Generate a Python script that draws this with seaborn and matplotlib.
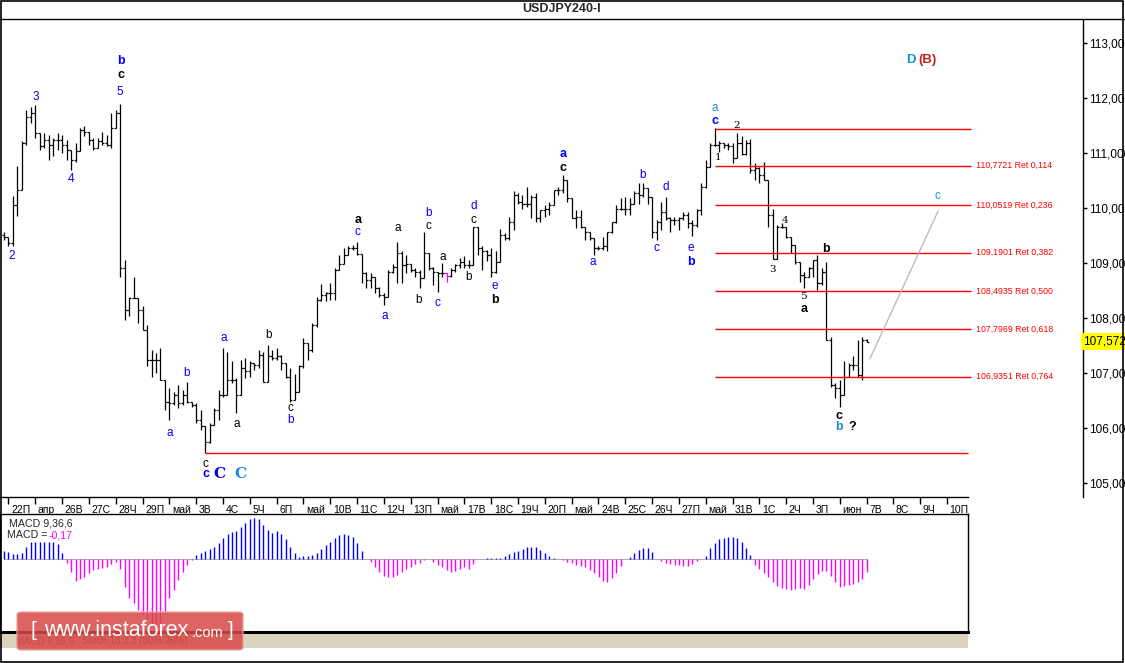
import numpy as np
import matplotlib
matplotlib.use("Agg")
import matplotlib.pyplot as plt
import matplotlib.transforms as mtransforms
from matplotlib.patches import Rectangle, FancyBboxPatch
from matplotlib.lines import Line2D
import seaborn as sns

W, H = 1125, 663

# ---- USDJPY H4 bars (Apr 21 20:00 .. Jun 7 00:00) ----
first_open = 109.50
highs = [
    109.57, 109.48, 110.21, 110.77, 111.21, 111.78, 111.84, 111.87, 111.36, 111.36,
    111.33, 111.27, 111.36, 111.33, 111.24, 111.06, 111.18, 111.45, 111.49, 111.39,
    111.27, 111.27, 111.39, 111.33, 111.73, 111.78, 111.89, 109.05, 108.39, 108.75,
    108.36, 108.21, 107.87, 107.42, 107.36, 107.45, 106.87, 106.72, 106.66, 106.78,
    106.69, 106.84, 106.48, 106.45, 106.33, 106.03, 106.09, 106.36, 106.69, 107.45,
    107.39, 107.21, 106.90, 107.24, 107.27, 107.21, 107.18, 107.42, 107.39, 107.51,
    107.42, 107.45, 107.33, 107.18, 107.09, 106.99, 107.15, 107.63, 107.54, 107.90,
    108.39, 108.62, 108.48, 108.63, 108.90, 109.15, 109.28, 109.30, 109.33, 109.39,
    109.17, 108.84, 108.81, 108.57, 108.57, 108.45, 108.87, 108.99, 109.39, 109.21,
    109.15, 108.96, 108.90, 108.87, 109.57, 109.18, 108.93, 108.84, 109.00, 108.82,
    108.90, 108.99, 109.09, 109.12, 109.05, 109.66, 109.66, 109.30, 109.24, 109.27,
    109.21, 109.61, 109.54, 109.84, 110.30, 110.27, 110.24, 110.39, 110.24, 110.27,
    109.96, 110.05, 110.11, 110.33, 110.39, 110.60, 110.24, 110.14, 109.96, 109.96,
    109.63, 109.57, 109.42, 109.30, 109.48, 109.57, 109.75, 110.05, 110.18, 110.20,
    110.18, 110.30, 110.45, 110.45, 110.30, 110.20, 109.78, 110.11, 110.20, 109.84,
    109.84, 109.84, 109.93, 109.93, 109.78, 109.99, 110.45, 110.87, 111.18, 111.45,
    111.21, 111.18, 111.18, 111.18, 111.36, 111.30, 111.24, 111.25, 110.81, 110.75,
    110.84, 110.51, 109.99, 109.69, 109.72, 109.60, 109.48, 109.33, 108.99, 108.84,
    108.93, 109.05, 109.15, 108.90, 109.02, 107.66, 106.81, 106.87, 107.21, 107.18,
    107.30, 107.60, 107.66, 107.61,
]
lows = [
    109.42, 109.30, 109.30, 109.86, 110.33, 111.15, 111.54, 111.27, 111.06, 111.09,
    110.87, 110.94, 111.06, 111.00, 110.87, 110.69, 110.84, 111.06, 111.30, 111.15,
    111.06, 111.12, 111.15, 111.12, 111.09, 111.45, 108.75, 107.96, 108.03, 108.36,
    107.90, 107.78, 107.12, 106.93, 107.00, 106.87, 106.33, 106.15, 106.42, 106.36,
    106.42, 106.45, 106.39, 106.09, 105.96, 105.54, 105.72, 106.15, 106.15, 106.57,
    106.60, 106.81, 106.27, 106.60, 106.90, 106.93, 107.06, 107.09, 106.84, 106.84,
    107.24, 107.24, 107.06, 106.90, 106.48, 106.66, 106.66, 107.09, 107.24, 107.39,
    107.84, 108.30, 108.30, 108.33, 108.33, 108.87, 108.99, 109.15, 109.24, 109.15,
    108.63, 108.54, 108.54, 108.45, 108.39, 108.24, 108.39, 108.81, 108.63, 108.63,
    108.81, 108.84, 108.75, 108.54, 108.72, 108.87, 108.60, 108.48, 108.75, 108.66,
    108.75, 108.84, 108.90, 108.90, 108.90, 108.96, 109.15, 108.87, 109.03, 108.75,
    108.81, 109.05, 109.42, 109.42, 109.60, 110.08, 109.99, 110.02, 109.81, 109.75,
    109.75, 109.84, 109.87, 110.05, 110.24, 110.27, 110.11, 109.81, 109.63, 109.63,
    109.42, 109.42, 109.15, 109.24, 109.24, 109.21, 109.54, 109.72, 109.96, 109.87,
    109.87, 110.08, 110.08, 110.20, 110.08, 109.45, 109.42, 109.60, 109.78, 109.57,
    109.69, 109.60, 109.78, 109.63, 109.49, 109.66, 109.87, 110.36, 110.75, 111.12,
    111.02, 111.09, 111.06, 110.81, 110.90, 110.96, 110.96, 110.63, 110.51, 110.45,
    110.51, 109.66, 109.08, 109.08, 109.63, 109.45, 109.18, 108.99, 108.66, 108.54,
    108.75, 108.75, 108.51, 108.60, 107.60, 106.75, 106.54, 106.39, 106.60, 106.93,
    107.06, 106.93, 106.87, 107.57,
]
closes = [
    109.48, 109.36, 110.06, 110.33, 111.18, 111.66, 111.72, 111.36, 111.12, 111.24,
    111.15, 111.24, 111.24, 111.15, 111.06, 110.87, 111.03, 111.42, 111.39, 111.24,
    111.09, 111.21, 111.18, 111.15, 111.45, 111.72, 108.90, 108.15, 108.36, 108.36,
    108.15, 107.78, 107.24, 107.24, 107.24, 106.87, 106.48, 106.45, 106.60, 106.45,
    106.60, 106.48, 106.42, 106.15, 106.03, 105.75, 106.06, 106.33, 106.60, 106.60,
    106.87, 106.87, 106.60, 107.09, 107.03, 107.18, 107.15, 107.33, 106.84, 107.30,
    107.27, 107.30, 107.18, 106.93, 106.51, 106.66, 107.12, 107.54, 107.42, 107.87,
    108.33, 108.42, 108.45, 108.45, 108.87, 108.99, 109.15, 109.28, 109.27, 109.17,
    108.81, 108.69, 108.75, 108.54, 108.42, 108.39, 108.84, 108.93, 109.18, 108.96,
    108.99, 108.87, 108.84, 108.72, 109.18, 108.90, 108.84, 108.81, 108.81, 108.76,
    108.87, 108.96, 109.02, 108.96, 108.96, 109.65, 109.27, 109.21, 109.15, 108.84,
    109.02, 109.51, 109.45, 109.75, 110.24, 110.11, 110.08, 110.08, 110.20, 109.81,
    109.96, 109.99, 110.05, 110.33, 110.33, 110.51, 110.18, 109.81, 109.84, 109.66,
    109.57, 109.45, 109.27, 109.27, 109.30, 109.57, 109.75, 109.99, 109.99, 109.99,
    110.08, 110.27, 110.24, 110.36, 110.20, 109.57, 109.75, 109.93, 109.81, 109.78,
    109.78, 109.81, 109.87, 109.72, 109.69, 109.96, 110.39, 110.75, 111.15, 111.15,
    111.18, 111.15, 111.12, 110.90, 111.18, 110.99, 111.18, 110.69, 110.72, 110.60,
    110.51, 109.87, 109.08, 109.66, 109.66, 109.48, 109.33, 109.02, 108.78, 108.75,
    108.90, 109.05, 108.63, 108.84, 107.60, 106.78, 106.72, 106.60, 106.93, 107.15,
    107.15, 106.96, 107.60, 107.572,
]
macd_hist = [
    0.118, 0.104, 0.080, 0.080, 0.095, 0.170, 0.246, 0.246, 0.246, 0.246,
    0.246, 0.246, 0.218, 0.095, -0.057, -0.175, -0.303, -0.284, -0.255, -0.199,
    -0.151, -0.137, -0.128, -0.114, -0.066, -0.033, -0.142, -0.388, -0.553, -0.624,
    -0.719, -0.790, -0.850, -0.900, -0.920, -0.900, -0.740, -0.550, -0.440, -0.290,
    -0.175, -0.080, -0.005, 0.061, 0.095, 0.123, 0.142, 0.180, 0.237, 0.298,
    0.359, 0.393, 0.407, 0.454, 0.520, 0.568, 0.582, 0.568, 0.487, 0.416,
    0.378, 0.407, 0.359, 0.284, 0.170, 0.095, 0.038, 0.047, 0.052, 0.061,
    0.095, 0.142, 0.203, 0.251, 0.298, 0.345, 0.355, 0.345, 0.322, 0.237,
    0.118, 0.005, -0.033, -0.114, -0.175, -0.237, -0.255, -0.255, -0.222, -0.175,
    -0.142, -0.104, -0.066, -0.057, -0.009, 0.002, -0.033, -0.080, -0.114, -0.151,
    -0.175, -0.166, -0.142, -0.114, -0.137, -0.066, 0.002, 0.002, 0.024, 0.024,
    0.014, 0.014, 0.047, 0.076, 0.099, 0.118, 0.147, 0.175, 0.175, 0.170,
    0.132, 0.090, 0.047, 0.019, 0.005, -0.005, -0.033, -0.047, -0.076, -0.095,
    -0.114, -0.151, -0.199, -0.255, -0.303, -0.317, -0.270, -0.189, -0.095, 0.005,
    0.038, 0.095, 0.132, 0.161, 0.156, 0.109, 0.005, -0.028, -0.047, -0.066,
    -0.080, -0.085, -0.090, -0.090, -0.066, -0.019, 0.005, 0.052, 0.156, 0.237,
    0.289, 0.307, 0.322, 0.322, 0.307, 0.251, 0.166, 0.057, -0.080, -0.142,
    -0.199, -0.255, -0.322, -0.374, -0.402, -0.421, -0.430, -0.421, -0.412, -0.421,
    -0.364, -0.279, -0.208, -0.166, -0.166, -0.237, -0.317, -0.388, -0.378, -0.364,
    -0.350, -0.317, -0.284, -0.175,
]
doji_bar = 99

day_labels = ["22П", "апр", "26В", "27С", "28Ч", "29П", "май", "3В", "4С", "5Ч",
              "6П", "май", "10В", "11С", "12Ч", "13П", "май", "17В", "18С", "19Ч",
              "20П", "май", "24В", "25С", "26Ч", "27П", "май", "31В", "1С", "2Ч",
              "3П", "июн", "7В", "8С", "9Ч", "10П"]
price_ticks = [105, 106, 107, 108, 109, 110, 111, 112, 113]
last_price = 107.572

fib_top = 111.445
fib_bottom = 105.542
fib_levels = [110.7721, 110.0519, 109.1901, 108.4935, 107.7969, 106.9351]
fib_ratios = ["0,114", "0,236", "0,382", "0,500", "0,618", "0,764"]
fib_from_bar = 159
low_from_bar = 45

proj_bars = [193.7, 209.0]
proj_prices = [107.255, 109.945]

BLUE, LBLUE, DRED = "#0000FF", "#1C8ED6", "#C41E1E"
# (bar, price, text, colour, style)
wave_labels = [
    (1.8, 109.13, "2", BLUE, "n"), (7.1, 112.02, "3", BLUE, "n"),
    (15.0, 110.53, "4", BLUE, "n"), (26.0, 112.11, "5", BLUE, "n"),
    (26.1, 112.42, "c", "black", "b"), (26.1, 112.67, "b", BLUE, "b"),
    (37.1, 105.91, "a", BLUE, "n"), (40.9, 107.00, "b", BLUE, "n"),
    (45.1, 105.35, "c", "black", "n"), (45.1, 105.16, "c", BLUE, "b"),
    (48.1, 105.16, "C", BLUE, "C"), (53.0, 105.16, "C", LBLUE, "C"),
    (49.2, 107.64, "a", BLUE, "n"), (52.1, 106.07, "a", "black", "n"),
    (59.1, 107.69, "b", "black", "n"), (64.0, 106.36, "c", "black", "n"),
    (64.0, 106.15, "b", BLUE, "n"), (79.2, 109.79, "a", "black", "b"),
    (79.0, 109.57, "c", BLUE, "n"), (88.0, 109.63, "a", "black", "n"),
    (85.1, 108.04, "a", BLUE, "n"), (94.9, 109.91, "b", BLUE, "n"),
    (94.9, 109.68, "c", "black", "n"), (92.8, 108.33, "b", "black", "n"),
    (96.9, 108.27, "c", BLUE, "n"), (98.1, 109.10, "a", "black", "n"),
    (103.9, 108.74, "b", "black", "n"), (105.0, 110.04, "d", BLUE, "n"),
    (105.0, 109.79, "c", "black", "n"), (109.8, 108.58, "e", BLUE, "n"),
    (109.9, 108.33, "b", "black", "b"), (125.0, 110.98, "a", BLUE, "b"),
    (125.0, 110.73, "c", "black", "b"), (131.8, 109.02, "a", BLUE, "n"),
    (142.8, 110.60, "b", BLUE, "n"), (145.9, 109.28, "c", BLUE, "n"),
    (148.0, 110.38, "d", BLUE, "n"), (153.7, 109.28, "e", BLUE, "n"),
    (153.7, 109.02, "b", BLUE, "b"), (159.0, 111.81, "a", LBLUE, "n"),
    (159.0, 111.59, "c", BLUE, "b"), (163.9, 111.50, "2", "black", "s"),
    (159.8, 110.92, "1", "black", "s"), (174.8, 109.78, "4", "black", "s"),
    (171.9, 108.89, "3", "black", "s"), (183.8, 109.25, "b", "black", "b"),
    (178.8, 108.39, "5", "black", "s"), (179.0, 108.16, "a", "black", "b"),
    (186.9, 106.22, "c", "black", "b"), (186.9, 106.01, "b", LBLUE, "b"),
    (189.8, 106.01, "?", "black", "b"), (208.9, 110.21, "c", LBLUE, "n"),
    (202.8, 112.69, "D", LBLUE, "D"), (206.7, 112.69, "(B)", DRED, "D"),
]
label_styles = {
    "n": dict(fontsize=8.5),
    "b": dict(fontsize=9, fontweight="bold"),
    "s": dict(fontsize=7.5, family="DejaVu Serif"),
    "C": dict(fontsize=11, fontweight="bold", family="DejaVu Serif"),
    "D": dict(fontsize=9.5, fontweight="bold"),
}

sns.set_theme(style="white")
plt.rcParams["font.family"] = ["Liberation Sans", "DejaVu Sans"]


def frac(x, y):
    return x / W, 1 - y / H


fig = plt.figure(figsize=(W / 100, H / 100), dpi=100, facecolor="white")

# main price panel
x0, y0 = frac(0, 497)
x1, y1 = frac(1083, 19)
ax = fig.add_axes([x0, y0, x1 - x0, y1 - y0])
ax.set_facecolor("white")
xmin, xmax = -0.895, 241.4
ax.set_xlim(xmin, xmax)
ax.set_ylim(104.745, 113.436)

n = len(closes)
bars = np.arange(n)
opens = np.r_[first_open, closes[:-1]]
hi = np.maximum.reduce([np.array(highs), opens, np.array(closes)])
lo = np.minimum.reduce([np.array(lows), opens, np.array(closes)])
cols = ["#FF00FF" if i == doji_bar else "black" for i in bars]
ax.vlines(bars, lo, hi, colors=cols, linewidth=0.9)
ax.hlines(opens, bars - 0.45, bars, colors=cols, linewidth=0.9)
ax.hlines(closes, bars, bars + 0.45, colors=cols, linewidth=0.9)

# fibonacci grid
right_edge = 216.3
ax.hlines([fib_top] + fib_levels, fib_from_bar, right_edge, colors="#FF0000", linewidth=1)
ax.hlines(fib_bottom, low_from_bar, 215.7, colors="#FF0000", linewidth=1)
for lev, r in zip(fib_levels, fib_ratios):
    ax.text(217.4, lev, f"{lev:.4f}".replace(".", ",") + f" Ret {r}", color="#FF0000",
            fontsize=6.3, va="center", ha="left")

sns.lineplot(x=proj_bars, y=proj_prices, ax=ax, color="#C8B4C8", linewidth=1)

for b, p, t, c, s in wave_labels:
    ax.text(b, p, t, color=c, ha="center", va="center", **label_styles[s])

# axes styling
for side in ["left", "top"]:
    ax.spines[side].set_visible(False)
ax.spines["right"].set_color("black")
ax.spines["right"].set_linewidth(1)
ax.spines["bottom"].set_color("black")
ax.spines["bottom"].set_linewidth(1)
ax.spines["bottom"].set_bounds(xmin, 215.66)
ax.yaxis.tick_right()
ax.set_yticks(price_ticks)
ax.set_yticklabels([f"{v},000" for v in price_ticks])
ax.tick_params(axis="y", direction="out", length=3, width=1, pad=1.5,
               labelsize=8.5, colors="black", right=True, left=False)
ax.set_xticks([6 * k + 1 for k in range(len(day_labels))])
ax.set_xticklabels(day_labels)
ax.tick_params(axis="x", direction="out", length=5, width=1, pad=0.5,
               labelsize=7.5, colors="black", bottom=True)
shift = mtransforms.ScaledTranslation(0.025, 0, fig.dpi_scale_trans)
for lbl in ax.get_xticklabels():
    lbl.set_horizontalalignment("left")
    lbl.set_transform(lbl.get_transform() + shift)
ax.grid(False)

ax.text(1.0, last_price, "107,572", transform=mtransforms.blended_transform_factory(ax.transAxes, ax.transData),
        ha="left", va="center", fontsize=8.5, color="black",
        bbox=dict(facecolor="#FFFF00", edgecolor="none", boxstyle="square,pad=0.2"))

# MACD panel
mx0, my0 = frac(0, 632)
mx1, my1 = frac(968, 514)
mx = fig.add_axes([mx0, my0, mx1 - mx0, my1 - my0])
mx.set_facecolor("white")
mx.set_xlim(xmin, 215.66)
mx.set_ylim(-1.03, 0.643)
mh = np.array(macd_hist)
mx.hlines(0, 0, n - 1, colors="#A0A0A0", linewidth=0.6)
mx.vlines(bars, 0, mh, colors=np.where(mh > 0, "#0000FF", "#FF00FF"), linewidth=1)
mx.set_xticks([])
mx.set_yticks([])
for side in mx.spines:
    mx.spines[side].set_color("black")
    mx.spines[side].set_linewidth(1)
mx.spines["bottom"].set_linewidth(2.2)
mx.grid(False)
fig.text(*frac(9, 523), "MACD 9,36,6", fontsize=7.7, va="center", ha="left")
fig.text(*frac(7, 535), "MACD = ", fontsize=7.7, va="center", ha="left")
fig.text(*frac(49, 535), "-0,17", fontsize=7.7, va="center", ha="left", color="#FF00FF")

# tab strip and watermark
sx, sy = frac(0, 648)
fig.add_artist(Rectangle((sx, sy), 968 / W, 14 / H, transform=fig.transFigure,
                         facecolor="#DAD4BE", edgecolor="none", hatch="....", zorder=1))
fig.text(*frac(16, 641), "MACD 9,36,6", fontsize=7, va="center", color="#555555")
fig.text(*frac(82, 641), "Stoch 13,3,3 (80%-20%)", fontsize=7, va="center", color="#555555")
wx, wy = frac(17, 650)
fig.add_artist(FancyBboxPatch((wx, wy), 226 / W, 38 / H, transform=fig.transFigure,
                              boxstyle="round,pad=0,rounding_size=0.004",
                              facecolor="#D94848", edgecolor="#EBA0A0", alpha=0.85, zorder=5))
fig.text(*frac(30, 630), "[", fontsize=15, color="white", va="center", zorder=6)
fig.text(*frac(44, 631), "www.instaforex", fontsize=15.5, color="white", va="center", zorder=6)
fig.text(*frac(192, 633), ".com", fontsize=10.5, color="white", va="center", zorder=6)
fig.text(*frac(228, 630), "]", fontsize=15, color="white", va="center", zorder=6)

# title bar and frame
fig.text(*frac(562, 9), "USDJPY240-I", fontsize=9, fontweight="bold", ha="center", va="center")
fig.add_artist(Line2D([0, 1], [1 - 18.5 / H] * 2, color="black", linewidth=1))
fig.add_artist(Rectangle((0.5 / W, 1.5 / H), 1 - 2.5 / W, 1 - 2.5 / H, transform=fig.transFigure,
                         facecolor="none", edgecolor="black", linewidth=1.2))

fig.savefig("out.png", dpi=100, facecolor="white")
